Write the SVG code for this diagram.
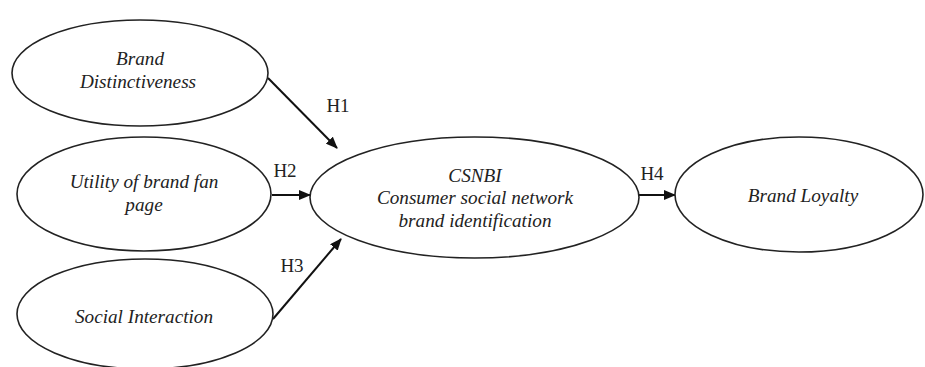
<svg xmlns="http://www.w3.org/2000/svg" width="925" height="367" viewBox="0 0 925 367">
<style>
.node ellipse{fill:#fff;stroke:#222;stroke-width:1.6}
.lbl{font-family:"Liberation Serif","Times New Roman",serif;font-style:italic;font-size:19.2px;fill:#222;text-anchor:middle}
.h{font-family:"Liberation Serif","Times New Roman",serif;font-size:19px;fill:#222;text-anchor:middle}
.edge{stroke:#111;stroke-width:2;fill:none;marker-end:url(#ah)}
</style>
<defs>
<marker id="ah" markerUnits="userSpaceOnUse" markerWidth="12" markerHeight="10" refX="11" refY="5" orient="auto">
<path d="M0,0 L12,5 L0,10 Z" fill="#111"/>
</marker>
</defs>
<rect width="925" height="367" fill="#fff"/>
<g id="connectors">
<line class="edge" x1="268" y1="78" x2="337" y2="148"/>
<line class="edge" x1="272" y1="195" x2="310" y2="195"/>
<line class="edge" x1="273" y1="319" x2="341" y2="239"/>
<line class="edge" x1="639" y1="195" x2="675" y2="195"/>
<text class="h" x="338" y="112">H1</text>
<text class="h" x="285" y="177">H2</text>
<text class="h" x="292" y="272">H3</text>
<text class="h" x="652" y="180">H4</text>
</g>
<g id="n-distinctiveness" class="node">
<ellipse cx="140" cy="73" rx="128" ry="53"/>
<text class="lbl" x="140" y="65">Brand</text>
<text class="lbl" x="138" y="88">Distinctiveness</text>
</g>
<g id="n-utility" class="node">
<ellipse cx="144" cy="194" rx="127" ry="57"/>
<text class="lbl" x="144" y="188">Utility of brand fan</text>
<text class="lbl" x="144" y="211">page</text>
</g>
<g id="n-social" class="node">
<ellipse cx="145" cy="314" rx="128" ry="55"/>
<text class="lbl" x="144" y="323">Social Interaction</text>
</g>
<g id="n-csnbi" class="node">
<ellipse cx="474.5" cy="197.5" rx="164.5" ry="60.5"/>
<text class="lbl" x="475" y="182">CSNBI</text>
<text class="lbl" x="475" y="204">Consumer social network</text>
<text class="lbl" x="475" y="227">brand identification</text>
</g>
<g id="n-loyalty" class="node">
<ellipse cx="799" cy="194.5" rx="124" ry="57.5"/>
<text class="lbl" x="803" y="202">Brand Loyalty</text>
</g>
</svg>
